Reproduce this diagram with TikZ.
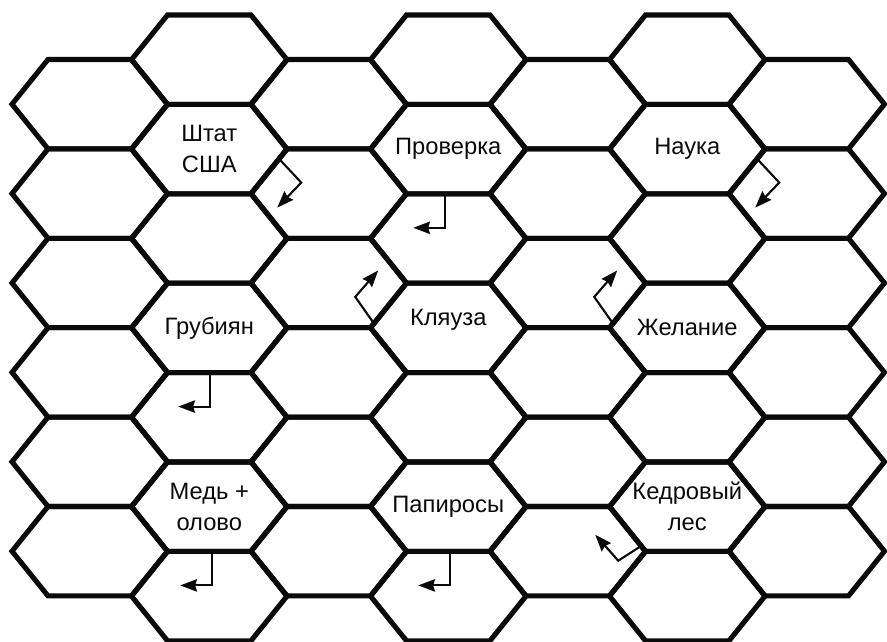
\documentclass[tikz,border=0pt]{standalone}
\usepackage{fontspec}
\setmainfont{Liberation Sans}
\usepackage{tikz}
\usetikzlibrary{arrows.meta, calc}
\definecolor{myink}{RGB}{10,10,10}
\tikzset{
  cell/.style={draw=myink, line width=2.9pt, line join=miter},
  word/.style={font=\fontsize{13.5}{17.6}\selectfont, align=center,
    text=myink, inner sep=0pt},
  turn/.style={-{Stealth[length=9.5pt, width=7pt, inset=1pt]},
    line width=1.2pt, color=myink}
}

\begin{document}
\begin{tikzpicture}[x=0.02cm, y=-0.02cm]
  \useasboundingbox (0,0) rectangle (887,642);

  % honeycomb: odd columns six cells, even columns seven
  \foreach \k in {1,...,7} {
    \pgfmathtruncatemacro{\odd}{mod(\k,2)}
    \pgfmathtruncatemacro{\nrows}{7-\odd}
    \foreach \r in {1,...,\nrows} {
      \coordinate (c\k-\r) at ({89.75+(\k-1)*119.5}, {59.7+44.5*\odd+(\r-1)*89.4});
      \draw[cell] (c\k-\r) ++(-77.75,0) -- ++(36,-44.7) -- ++(83.5,0)
        -- ++(36,44.7) -- ++(-36,44.7) -- ++(-83.5,0) -- cycle;
    }
  }

  \node[word] (shtat) at (c2-2) {Штат\\США};
  \node[word] (proverka) at (c4-2) {Проверка};
  \node[word] (nauka) at (c6-2) {Наука};
  \node[word] (grubiyan) at (c2-4) {Грубиян};
  \node[word, yshift=4.5pt] (klyauza) at (c4-4) {Кляуза};
  \node[word] (zhelanie) at (c6-4) {Желание};
  \node[word] (med) at (c2-6) {Медь +\\олово};
  \node[word] (papirosy) at (c4-6) {Папиросы};
  \node[word] (kedr) at (c6-6) {Кедровый\\лес};

  \draw[turn] ($(c2-2)+(71,11)$) -- ++(21,22.5) -- ++(-24,25);
  \draw[turn] ($(c6-2)+(71,11)$) -- ++(21,22.5) -- ++(-24,25);
  \draw[turn] ($(c4-2)+(-3,44.7)$) -- ++(0,34) -- ++(-32,0);
  \draw[turn] ($(c2-4)+(1,44.7)$) -- ++(0,34) -- ++(-32,0);
  \draw[turn] ($(c2-6)+(3,44.7)$) -- ++(0,34) -- ++(-32,0);
  \draw[turn] ($(c4-6)+(2,44.7)$) -- ++(0,34) -- ++(-32,0);
  \draw[turn] ($(c4-4)+(-74,-4)$) -- ++(-19,-27) -- ++(23,-26.5);
  \draw[turn] ($(c6-4)+(-74,-4)$) -- ++(-19,-27) -- ++(23,-26.5);
  \draw[turn] ($(c6-6)+(-48,40.5)$) -- ++(-21,13.5) -- ++(-23,-26);
\end{tikzpicture}
\end{document}
